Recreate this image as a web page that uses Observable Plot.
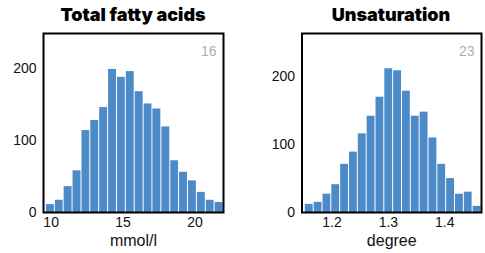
<!DOCTYPE html>
<html>
<head>
<meta charset="utf-8">
<script src="https://cdn.jsdelivr.net/npm/d3@7"></script>
<script src="https://cdn.jsdelivr.net/npm/@observablehq/plot@0.6"></script>
<style>
  html, body { margin: 0; padding: 0; background: #fff; }
  #wrap { position: relative; width: 485px; height: 253px; overflow: hidden; }
  .panel { position: absolute; top: 0; height: 253px; }
  .title { position: absolute; top: 3px; font-family: Inter, "Liberation Sans", sans-serif; font-weight: 900; font-size: 18px; color: #000; white-space: nowrap; transform: translateX(-50%); line-height: 24px; }
  svg { display: block; }
</style>
</head>
<body>
<div id="wrap"></div>
<script>
// ---- data ----
const titles = ["Total fatty acids", "Unsaturation"];
const xLabels = ["mmol/l", "degree"];
const cornerNotes = ["16", "23"];

// left panel: bin edges and counts
const fattyEdges = [9.64, 10.26, 10.87, 11.49, 12.11, 12.72, 13.34, 13.96, 14.58, 15.19, 15.81,
                    16.43, 17.04, 17.66, 18.28, 18.89, 19.51, 20.13, 20.75, 21.36, 21.98];
const fattyCounts = [11, 17, 36, 58, 114, 128, 146, 199, 188, 196, 168, 151, 144, 119, 72, 56, 44, 28, 17, 14];
const fattyXTicks = [10, 15, 20];

// right panel: bin edges and counts
const unsatEdges = [1.1518, 1.1675, 1.1832, 1.1988, 1.2145, 1.2302, 1.2458, 1.2615, 1.2772, 1.2928, 1.3085,
                    1.3242, 1.3398, 1.3555, 1.3712, 1.3869, 1.4025, 1.4182, 1.4339, 1.4495, 1.4652];
const unsatCounts = [12, 15, 27, 41, 71, 89, 116, 142, 170, 212, 209, 179, 142, 148, 110, 71, 50, 27, 30, 9];
const unsatXTicks = [1.2, 1.3, 1.4];

const yTicks = [0, 100, 200];

const barColor = "#4d8ac8";

function toBins(edges, counts) {
  return counts.map((c, i) => ({x1: edges[i], x2: edges[i + 1], count: c}));
}

function panel({left, width, marginLeft, marginRight, xDomain, yDomain, bins, xTicks, xFormat, xLabel, note, title, titleCenter}) {
  const div = document.createElement("div");
  div.className = "panel";
  div.style.left = left + "px";
  div.style.width = width + "px";
  const chart = Plot.plot({
    width,
    height: 222,
    marginTop: 2,
    marginBottom: 41,
    marginLeft,
    marginRight,
    style: {fontFamily: "'Liberation Sans', Arial, sans-serif", fontSize: "13px", color: "#111", background: "transparent", maxWidth: "none"},
    x: {domain: xDomain},
    y: {domain: yDomain},
    marks: [
      Plot.rectY(bins, {x1: "x1", x2: "x2", y: "count", fill: barColor, insetLeft: 0.5, insetRight: 0.5}),
      Plot.frame({stroke: "#000", strokeWidth: 2}),
      Plot.axisY({ticks: yTicks, tickSize: 0, tickPadding: 7, fontSize: 14, label: null}),
      Plot.axisX({ticks: xTicks, tickFormat: xFormat, tickSize: 0, tickPadding: 5, fontSize: 14, label: null}),
      Plot.text([xLabel], {frameAnchor: "bottom", lineAnchor: "middle", dy: 28, fontSize: 16, fill: "#111"}),
      Plot.text([note], {frameAnchor: "top-right", textAnchor: "end", lineAnchor: "middle", dx: -7, dy: 18, fontSize: 14, fill: "#a8b1ae"})
    ]
  });
  chart.style.position = "absolute";
  chart.style.top = "31px";
  chart.style.left = "0px";
  chart.style.maxWidth = "none";
  div.appendChild(chart);
  const t = document.createElement("div");
  t.className = "title";
  t.textContent = title;
  t.style.left = titleCenter + "px";
  div.appendChild(t);
  return div;
}

const wrap = document.getElementById("wrap");
wrap.appendChild(panel({
  left: 0, width: 242, marginLeft: 43, marginRight: 19,
  xDomain: [9.47, 21.98], yDomain: [0, 249],
  bins: toBins(fattyEdges, fattyCounts), xTicks: fattyXTicks, xFormat: d3.format("d"),
  xLabel: xLabels[0], note: cornerNotes[0], title: titles[0], titleCenter: 133
}));
wrap.appendChild(panel({
  left: 242, width: 243, marginLeft: 59.5, marginRight: 4,
  xDomain: [1.1468, 1.4652], yDomain: [0, 264],
  bins: toBins(unsatEdges, unsatCounts), xTicks: unsatXTicks, xFormat: d3.format(".1f"),
  xLabel: xLabels[1], note: cornerNotes[1], title: titles[1], titleCenter: 149
}));
</script>
</body>
</html>
